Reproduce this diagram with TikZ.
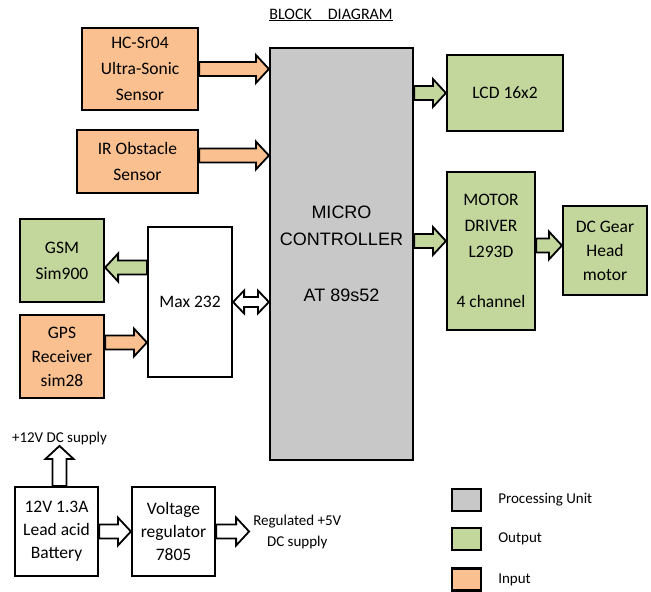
\documentclass[tikz,border=0pt]{standalone}
\usepackage{fontspec}
\setmainfont{Carlito}
\newfontfamily\arialfont{Liberation Sans}
\usetikzlibrary{calc}

\definecolor{entree}{HTML}{FAC090}
\definecolor{sortie}{HTML}{C3D69B}
\definecolor{unite}{HTML}{C8C8C8}

\tikzset{
  bloc/.style={draw, line width=2.2pt, align=center, inner sep=2pt,
    font=\fontsize{17.5}{26}\selectfont},
  annot/.style={inner sep=1pt, align=center, font=\fontsize{15}{21}\selectfont},
  fleche/.style={draw, line width=1.8pt, line join=miter},
}

% grosse fleche : couleur, depart, arrivee
\newcommand{\grossefleche}[3]{%
  \coordinate (gf-s) at (#2);
  \coordinate (gf-e) at (#3);
  \coordinate (gf-h) at ($(gf-e)!13pt!(gf-s)$);
  \path[fleche, fill=#1] ($(gf-s)!7pt!90:(gf-e)$) -- ($(gf-h)!7pt!90:(gf-e)$)
    -- ($(gf-h)!14pt!90:(gf-e)$) -- (gf-e) -- ($(gf-h)!14pt!-90:(gf-e)$)
    -- ($(gf-h)!7pt!-90:(gf-e)$) -- ($(gf-s)!7pt!-90:(gf-e)$) -- cycle;
}
% fleche double : depart, arrivee
\newcommand{\doublefleche}[2]{%
  \coordinate (df-s) at (#1);
  \coordinate (df-e) at (#2);
  \coordinate (df-a) at ($(df-s)!11pt!(df-e)$);
  \coordinate (df-b) at ($(df-e)!11pt!(df-s)$);
  \path[fleche, fill=white] (df-s) -- ($(df-a)!11.5pt!90:(df-e)$)
    -- ($(df-a)!5pt!90:(df-e)$) -- ($(df-b)!5pt!90:(df-e)$)
    -- ($(df-b)!11.5pt!90:(df-e)$) -- (df-e) -- ($(df-b)!11.5pt!-90:(df-e)$)
    -- ($(df-b)!5pt!-90:(df-e)$) -- ($(df-a)!5pt!-90:(df-e)$)
    -- ($(df-a)!11.5pt!-90:(df-e)$) -- cycle;
}

\begin{document}
\begin{tikzpicture}[x=1pt,y=-1pt]
\useasboundingbox (0,0) rectangle (651,592);

% Titre
\node[font=\fontsize{16}{20}\selectfont] (titre) at (331,15) {\underline{BLOCK\quad DIAGRAM}};

% Microcontroleur
\node[bloc, fill=unite, minimum width=143pt, minimum height=412pt,
  font=\arialfont\fontsize{18}{27}\selectfont] (mcu) at (341.5,254)
  {MICRO\\CONTROLLER\\[29pt]AT 89s52};

% Entrees
\node[bloc, fill=entree, minimum width=116pt, minimum height=82pt] (hc) at (140,69)
  {HC-Sr04\\Ultra-Sonic\\Sensor};
\node[bloc, fill=entree, minimum width=121pt, minimum height=63pt] (ir) at (137.5,161.5)
  {IR Obstacle\\Sensor};
\node[bloc, fill=entree, minimum width=84pt, minimum height=83pt,
  font=\fontsize{17.5}{24}\selectfont] (gps) at (62,356.5)
  {GPS\\Receiver\\sim28};

% Sorties
\node[bloc, fill=sortie, minimum width=116pt, minimum height=76pt] (lcd) at (505,93)
  {LCD 16x2};
\node[bloc, fill=sortie, minimum width=88pt, minimum height=158pt] (drv) at (491,251)
  {MOTOR\\DRIVER\\L293D\\[24pt]4 channel};
\node[bloc, fill=sortie, minimum width=84pt, minimum height=89pt,
  font=\fontsize{17.5}{24}\selectfont] (gear) at (605,250.5)
  {DC Gear\\Head\\motor};
\node[bloc, fill=sortie, minimum width=84pt, minimum height=83pt] (gsm) at (62,260.5)
  {GSM\\Sim900};

% Max 232
\node[bloc, fill=white, minimum width=84pt, minimum height=150pt] (max) at (190,302)
  {Max 232};

% Alimentation
\node[bloc, fill=white, minimum width=83pt, minimum height=89pt,
  font=\fontsize{17.5}{23}\selectfont] (bat) at (56.5,531.5)
  {12V 1.3A\\Lead acid\\Battery};
\node[bloc, fill=white, minimum width=83pt, minimum height=89pt,
  font=\fontsize{17.5}{23}\selectfont] (reg) at (173.5,531.5)
  {Voltage\\regulator\\7805};
\coordinate (p12) at ($(bat.north)+(3,-40)$);
\coordinate (p5) at ($(reg.east)+(33,0)$);
\node[annot, above] (t12) at (p12) {+12V DC supply};
\node[annot, right=3pt] (t5) at (p5) {Regulated +5V\\DC supply};

% Fleches
\coordinate (ir-a) at ([yshift=6pt]ir.east);
\coordinate (drv-a) at ([yshift=10pt]drv.west);
\coordinate (gear-a) at ([yshift=5pt]gear.west);
\coordinate (gsm-a) at ([yshift=-7pt]gsm.east);
\coordinate (gps-a) at ([yshift=14pt]gps.east);
\grossefleche{entree}{hc.east}{mcu.west |- hc.east}
\grossefleche{entree}{ir-a}{mcu.west |- ir-a}
\grossefleche{sortie}{mcu.east |- lcd.west}{lcd.west}
\grossefleche{sortie}{mcu.east |- drv-a}{drv-a}
\grossefleche{sortie}{drv.east |- gear-a}{gear-a}
\grossefleche{sortie}{max.west |- gsm-a}{gsm-a}
\grossefleche{entree}{gps-a}{max.west |- gps-a}
\doublefleche{max.east}{mcu.west |- max.east}
\grossefleche{white}{bat.east}{reg.west}
\grossefleche{white}{reg.east}{p5}
\grossefleche{white}{bat.north -| p12}{p12}

% Legende
\node[bloc, fill=unite, minimum width=29pt, minimum height=22pt] (lg1) at (466.5,500) {};
\node[bloc, fill=sortie, minimum width=29pt, minimum height=22pt] (lg2) at (466.5,539) {};
\node[bloc, fill=entree, minimum width=29pt, minimum height=22pt] (lg3) at (466.5,579.5) {};
\node[annot, anchor=west] (lt1) at ([xshift=15pt]lg1.east) {Processing Unit};
\node[annot, anchor=west] (lt2) at ([xshift=15pt]lg2.east) {Output};
\node[annot, anchor=west] (lt3) at ([xshift=15pt]lg3.east) {Input};

\end{tikzpicture}
\end{document}
